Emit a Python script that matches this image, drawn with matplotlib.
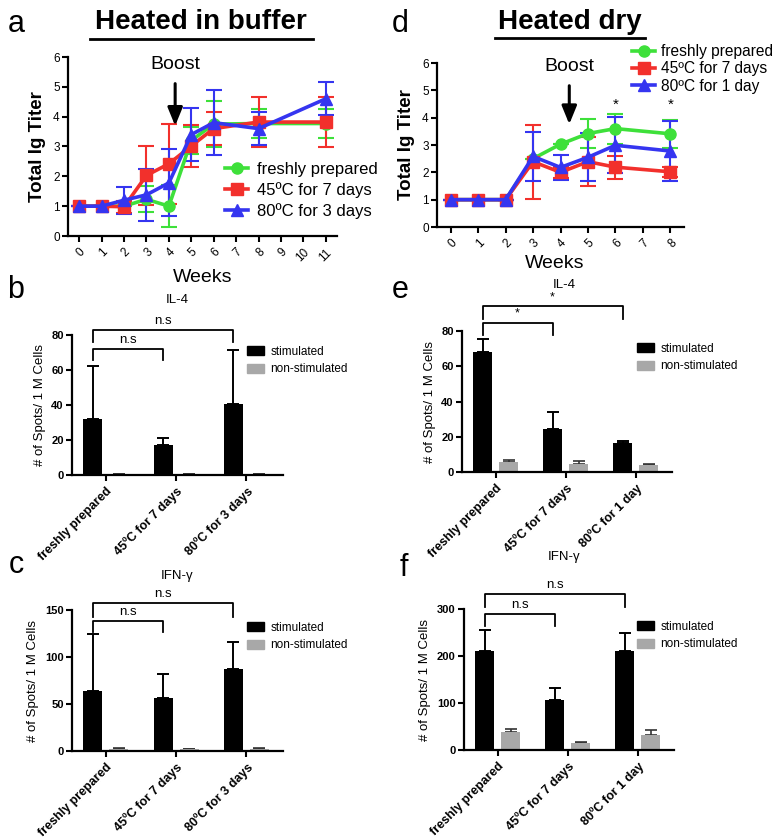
import numpy as np
import matplotlib.pyplot as plt
from matplotlib.lines import Line2D
from matplotlib.patches import Patch

plt.rcParams['font.family'] = ['Liberation Sans', 'DejaVu Sans']

# ---- line-plot data (Total Ig titer) ----
week_ticks_a = list(range(12))
weeks_a = [0, 1, 2, 3, 4, 5, 6, 8, 11]
fresh_a = [1, 1, 1, 1.23, 1.0, 3.2, 3.75, 3.77, 3.77]
fresh_a_err = [0, 0, 0, 0.43, 0.7, 0.45, 0.76, 0.48, 0.5]
c45_a = [1, 1, 0.98, 2.03, 2.42, 3.02, 3.6, 3.82, 3.82]
c45_a_err = [0, 0, 0.2, 0.98, 1.35, 0.7, 0.55, 0.84, 0.84]
c80_a = [1, 1, 1.2, 1.38, 1.78, 3.4, 3.8, 3.6, 4.6]
c80_a_err = [0, 0, 0.45, 0.88, 1.12, 0.9, 1.1, 0.55, 0.55]
labels_a = ['freshly prepared', '45ºC for 7 days', '80ºC for 3 days']

week_ticks_d = list(range(9))
weeks_d = [0, 1, 2, 3, 4, 5, 6, 8]
fresh_d = [1, 1, 1, 2.5, 3.03, 3.42, 3.6, 3.41]
fresh_d_err = [0, 0, 0, 0, 0, 0.53, 0.55, 0.52]
c45_d = [1, 1, 1, 2.39, 2.0, 2.39, 2.19, 2.02]
c45_d_err = [0, 0, 0, 1.35, 0.2, 0.89, 0.42, 0.18]
c80_d = [1, 1, 1, 2.58, 2.18, 2.55, 2.99, 2.78]
c80_d_err = [0, 0, 0, 0.9, 0.45, 0.88, 1.02, 1.08]
labels_d = ['freshly prepared', '45ºC for 7 days', '80ºC for 1 day']
star_weeks_d = [6, 8]

# ---- ELISpot bar data ----
groups_buffer = ['freshly prepared', '45ºC for 7 days', '80ºC for 3 days']
groups_dry = ['freshly prepared', '45ºC for 7 days', '80ºC for 1 day']

il4_b_stim = [32, 17, 40.5]
il4_b_stim_err = [30, 4.3, 31]
il4_b_non = [0.6, 0.6, 0.3]
il4_b_non_err = [0, 0, 0]

ifn_c_stim = [64, 56, 87]
ifn_c_stim_err = [60, 25.6, 29.4]
ifn_c_non = [2, 2, 2]
ifn_c_non_err = [1.5, 0.5, 1.5]

il4_e_stim = [68.3, 24.2, 16.3]
il4_e_stim_err = [7.1, 9.8, 1.1]
il4_e_non = [5.7, 4.7, 3.8]
il4_e_non_err = [1.3, 1.7, 0.7]

ifn_f_stim = [210, 106, 210]
ifn_f_stim_err = [44.6, 26.2, 40]
ifn_f_non = [38.3, 14.2, 31.2]
ifn_f_non_err = [6.4, 2.1, 11.4]

GREEN = '#3ee03a'
RED = '#f2302c'
BLUE = '#3535f0'
GREY = '#a8a8a8'

W, H = 784, 838
fig = plt.figure(figsize=(W / 100, H / 100), dpi=100)


def box(x0, y0, x1, y1):
    # pixel box -> figure fraction
    return [x0 / W, 1 - y1 / H, (x1 - x0) / W, (y1 - y0) / H]


def fx(x):
    return x / W


def fy(y):
    return 1 - y / H


def style_axes(ax):
    for s in ['top', 'right']:
        ax.spines[s].set_visible(False)
    for s in ['left', 'bottom']:
        ax.spines[s].set_linewidth(1.6)
    ax.tick_params(width=1.5, length=4, direction='out')


def line_panel(ax, weeks, ticks, series, labels):
    markers = ['o', 's', '^']
    colors = [GREEN, RED, BLUE]
    sizes = [8, 8, 9]
    handles = []
    for (vals, errs), m, c, ms, lab in zip(series, markers, colors, sizes, labels):
        ax.errorbar(weeks, vals, yerr=errs, color=c, marker=m, ms=ms, lw=2.6,
                    elinewidth=1.5, capsize=6, capthick=1.5, clip_on=False)
        handles.append(Line2D([], [], color=c, marker=m, ms=ms, lw=2.6))
    style_axes(ax)
    ax.set_xticks(ticks)
    ax.set_xticklabels([str(t) for t in ticks], rotation=45, ha='right',
                       rotation_mode='anchor', fontsize=8.5)
    ax.set_xlim(-0.5, ticks[-1] + 0.5)
    ax.set_ylim(0, 6)
    ax.set_yticks(range(7))
    ax.tick_params(axis='y', labelsize=8.5, pad=2)
    ax.set_ylabel('Total Ig Titer', fontsize=13.5, fontweight='bold', labelpad=5)
    return handles


# ---------------- panel a ----------------
ax_a = fig.add_axes(box(68, 57, 337, 236))
h_a = line_panel(ax_a, weeks_a, week_ticks_a,
                 [(fresh_a, fresh_a_err), (c45_a, c45_a_err), (c80_a, c80_a_err)], labels_a)
ax_a.annotate('', xy=(4.28, 3.6), xytext=(4.28, 5.2),
              arrowprops=dict(arrowstyle='-|>,head_length=1.1,head_width=0.45',
                              color='black', lw=2.2))
ax_a.text(4.28, 5.45, 'Boost', ha='center', va='bottom', fontsize=14)
ax_a.legend(h_a, labels_a, loc='upper left', bbox_to_anchor=(fx(225), fy(162)),
            bbox_transform=fig.transFigure, frameon=False, fontsize=12,
            handlelength=1.4, handletextpad=0.5, labelspacing=0.3,
            borderpad=0, borderaxespad=0)
fig.text(fx(203), fy(278), 'Weeks', ha='center', va='center', fontsize=14)

# ---------------- panel d ----------------
ax_d = fig.add_axes(box(437, 63, 684, 227))
h_d = line_panel(ax_d, weeks_d, week_ticks_d,
                 [(fresh_d, fresh_d_err), (c45_d, c45_d_err), (c80_d, c80_d_err)], labels_d)
ax_d.annotate('', xy=(4.32, 3.66), xytext=(4.32, 5.27),
              arrowprops=dict(arrowstyle='-|>,head_length=1.1,head_width=0.45',
                              color='black', lw=2.2))
ax_d.text(4.32, 5.55, 'Boost', ha='center', va='bottom', fontsize=14)
for w in star_weeks_d:
    ax_d.text(w, 4.2, '*', ha='center', va='bottom', fontsize=11)
ax_d.legend(h_d, labels_d, loc='upper left', bbox_to_anchor=(fx(632), fy(44)),
            bbox_transform=fig.transFigure, frameon=False, fontsize=11.2,
            handlelength=1.5, handletextpad=0.35, labelspacing=0.15,
            borderpad=0, borderaxespad=0)
fig.text(fx(555), fy(263), 'Weeks', ha='center', va='center', fontsize=14)

# ---------------- bar panels ----------------


def bar_panel(rect, groups, stim, stim_err, non, non_err, ymax, yticks,
              brackets, legend_xy):
    ax = fig.add_axes(rect)
    x = np.arange(len(groups))
    off, bw = 0.185, 0.27
    ax.bar(x - off, stim, bw, color='black', zorder=2)
    ax.bar(x + off, non, bw, color=GREY, zorder=2)
    ax.errorbar(x - off, stim, yerr=[np.zeros(len(x)), stim_err], fmt='none',
                ecolor='black', elinewidth=1.4, capsize=4, capthick=1.4, zorder=1)
    ax.errorbar(x + off, non, yerr=[np.zeros(len(x)), non_err], fmt='none',
                ecolor='#333333', elinewidth=1.2, capsize=4, capthick=1.2, zorder=1)
    style_axes(ax)
    ax.set_xlim(-0.48, 2.52)
    ax.set_ylim(0, ymax)
    ax.set_yticks(yticks)
    ax.set_xticks(x)
    ax.set_xticklabels(groups, rotation=45, ha='right', rotation_mode='anchor',
                       fontsize=9, fontweight='bold')
    ax.tick_params(axis='y', labelsize=8, pad=2)
    for lab in ax.get_yticklabels():
        lab.set_fontweight('bold')
    ax.set_ylabel('# of Spots/ 1 M Cells', fontsize=9.5, labelpad=4)
    for (i, j, ytop, ydrop, txt) in brackets:
        ax.plot([x[i] - off, x[i] - off, x[j] - off, x[j] - off],
                [ydrop, ytop, ytop, ydrop], color='black', lw=1.3, clip_on=False)
        ax.text((x[i] + x[j]) / 2 - off, ytop + ymax * 0.02, txt, ha='center',
                va='bottom', fontsize=9.5 if txt != '*' else 9)
    handles = [Patch(color='black'), Patch(color=GREY)]
    ax.legend(handles, ['stimulated', 'non-stimulated'], loc='upper left',
              bbox_to_anchor=legend_xy, bbox_transform=fig.transFigure,
              frameon=False, fontsize=8.5, handlelength=1.4, handleheight=0.8,
              handletextpad=0.6, labelspacing=0.45, borderpad=0, borderaxespad=0)
    return ax


bar_panel(box(72, 335, 283, 475), groups_buffer, il4_b_stim, il4_b_stim_err,
          il4_b_non, il4_b_non_err, 80, [0, 20, 40, 60, 80],
          [(0, 1, 72, 65.7, 'n.s'), (0, 2, 83, 76, 'n.s')], (fx(247), fy(346)))
fig.text(fx(177), fy(300), 'IL-4', ha='center', va='center', fontsize=9.5)

bar_panel(box(72, 610, 283, 751), groups_buffer, ifn_c_stim, ifn_c_stim_err,
          ifn_c_non, ifn_c_non_err, 150, [0, 50, 100, 150],
          [(0, 1, 138.7, 127, 'n.s'), (0, 2, 157.8, 143, 'n.s')], (fx(247), fy(622)))
fig.text(fx(177), fy(576), 'IFN-γ', ha='center', va='center', fontsize=9.5)

bar_panel(box(462, 331, 672, 472), groups_dry, il4_e_stim, il4_e_stim_err,
          il4_e_non, il4_e_non_err, 80, [0, 20, 40, 60, 80],
          [(0, 1, 84.7, 77.5, '*'), (0, 2, 94, 87, '*')], (fx(637), fy(343)))
fig.text(fx(564), fy(285), 'IL-4', ha='center', va='center', fontsize=9.5)

bar_panel(box(464, 609, 674, 750), groups_dry, ifn_f_stim, ifn_f_stim_err,
          ifn_f_non, ifn_f_non_err, 300, [0, 100, 200, 300],
          [(0, 1, 289, 264, 'n.s'), (0, 2, 332, 305, 'n.s')], (fx(637), fy(621)))
fig.text(fx(564), fy(557), 'IFN-γ', ha='center', va='center', fontsize=9.5)

# ---------------- titles and panel letters ----------------
fig.text(fx(201), fy(22), 'Heated in buffer', ha='center', va='center',
         fontsize=20, fontweight='bold')
fig.add_artist(Line2D([fx(90), fx(313)], [fy(39), fy(39)], color='black', lw=2))
fig.text(fx(570), fy(22), 'Heated dry', ha='center', va='center',
         fontsize=20, fontweight='bold')
fig.add_artist(Line2D([fx(495), fx(645)], [fy(38), fy(38)], color='black', lw=2))

for letter, (x, y) in {'a': (16, 24), 'd': (400, 24), 'b': (16, 290),
                       'e': (400, 290), 'c': (16, 565), 'f': (404, 568)}.items():
    fig.text(fx(x), fy(y), letter, ha='center', va='center', fontsize=22)

fig.savefig('out.png', dpi=100)
